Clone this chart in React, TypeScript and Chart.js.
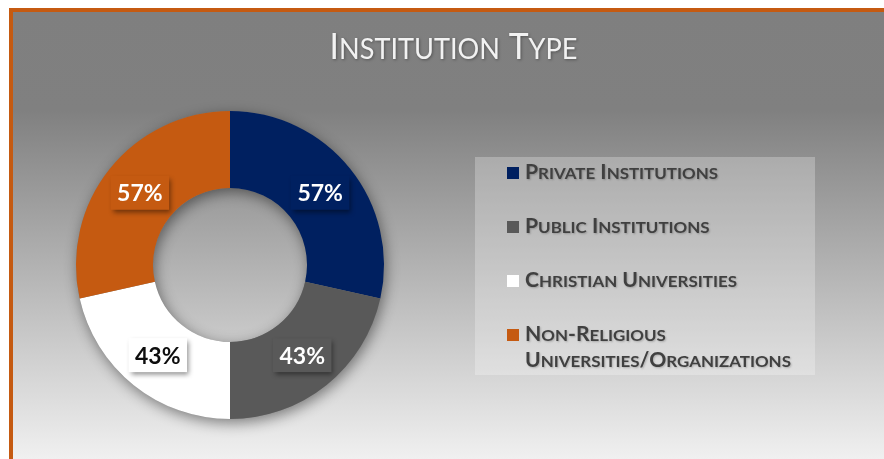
import React, { useEffect, useRef } from 'react';
import { Chart, registerables } from 'chart.js';

Chart.register(...registerables);

const categories = [
  'Private Institutions',
  'Public Institutions',
  'Christian Universities',
  'Non-Religious Universities/Organizations',
];
const values = [57, 43, 43, 57];
const valueLabels = ['57%', '43%', '43%', '57%'];
const sliceColors = ['#002060', '#595959', '#FFFFFF', '#C55A11'];
const valueTextColors = ['#FFFFFF', '#FFFFFF', '#0D0D0D', '#FFFFFF'];
const chartTitle = 'Institution Type';

const FAMILY = 'Lato, "Open Sans", sans-serif';

type Run = { text: string; big: boolean };

function runsOf(text: string): Run[] {
  const runs: Run[] = [];
  for (const ch of text) {
    const big = !(ch >= 'a' && ch <= 'z');
    const last = runs[runs.length - 1];
    if (last && last.big === big) last.text += ch.toUpperCase();
    else runs.push({ text: ch.toUpperCase(), big });
  }
  return runs;
}

function measureSC(ctx: CanvasRenderingContext2D, text: string, big: number, small: number, weight: string) {
  let w = 0;
  for (const r of runsOf(text)) {
    ctx.font = `${weight} ${r.big ? big : small}px ${FAMILY}`;
    w += ctx.measureText(r.text).width;
  }
  return w;
}

function drawSC(
  ctx: CanvasRenderingContext2D,
  text: string,
  x: number,
  y: number,
  big: number,
  small: number,
  weight: string,
  sx: number
) {
  ctx.save();
  ctx.translate(x, y);
  ctx.scale(sx, 1);
  ctx.textBaseline = 'alphabetic';
  ctx.textAlign = 'left';
  let cx = 0;
  for (const r of runsOf(text)) {
    ctx.font = `${weight} ${r.big ? big : small}px ${FAMILY}`;
    ctx.fillText(r.text, cx, 0);
    cx += ctx.measureText(r.text).width;
  }
  ctx.restore();
}

const decorPlugin = {
  id: 'decor',
  beforeDraw(chart: any) {
    const ctx: CanvasRenderingContext2D = chart.ctx;
    const W = chart.width;
    const H = chart.height;
    ctx.save();
    ctx.fillStyle = '#FFFFFF';
    ctx.fillRect(0, 0, W, H);
    const g = ctx.createLinearGradient(0, 12, 0, H);
    g.addColorStop(0, '#7F7F7F');
    g.addColorStop(0.22, '#808080');
    g.addColorStop(1, '#F0F0F0');
    ctx.fillStyle = g;
    ctx.fillRect(13, 12, W - 13, H - 12);
    ctx.fillStyle = '#C55A11';
    ctx.fillRect(9, 8, W - 9, 4);
    ctx.fillRect(9, 8, 4, H - 8);

    // title
    ctx.fillStyle = '#F2F2F2';
    ctx.shadowColor = 'rgba(0,0,0,0.35)';
    ctx.shadowBlur = 3;
    ctx.shadowOffsetX = 1;
    ctx.shadowOffsetY = 1;
    const tBig = 36, tSmall = 29;
    const tw = measureSC(ctx, chartTitle, tBig, tSmall, '400');
    const tsx = 248 / tw;
    drawSC(ctx, chartTitle, 453.5 - (tw * tsx) / 2, 59, tBig, tSmall, '400', tsx);
    ctx.restore();

    // legend box
    ctx.save();
    ctx.fillStyle = 'rgba(255,255,255,0.26)';
    ctx.fillRect(475, 157, 340, 218);
    const lBig = 20, lSmall = 16, weight = '700';
    const refW = measureSC(ctx, categories[0], lBig, lSmall, weight);
    const lsx = 193 / refW;
    const textX = 525;
    const maxW = 815 - textX - 8;
    let baseY = 179;
    categories.forEach((cat, i) => {
      const words = cat.split(' ');
      const lines: string[] = [];
      let cur = '';
      for (const w of words) {
        const test = cur ? cur + ' ' + w : w;
        if (cur && measureSC(ctx, test, lBig, lSmall, weight) * lsx > maxW) {
          lines.push(cur);
          cur = w;
        } else cur = test;
      }
      if (cur) lines.push(cur);
      ctx.shadowColor = 'rgba(0,0,0,0)';
      ctx.fillStyle = sliceColors[i];
      ctx.fillRect(507, baseY - 12, 12, 12);
      ctx.fillStyle = '#404040';
      ctx.shadowColor = 'rgba(0,0,0,0.22)';
      ctx.shadowBlur = 2;
      ctx.shadowOffsetX = 1;
      ctx.shadowOffsetY = 1;
      lines.forEach((ln, k) => {
        drawSC(ctx, ln, textX, baseY + k * 26, lBig, lSmall, weight, lsx);
      });
      baseY += 54 + (lines.length - 1) * 26;
    });
    ctx.restore();
  },
  beforeDatasetsDraw(chart: any) {
    const meta = chart.getDatasetMeta(0);
    const a = meta.data[0];
    if (!a) return;
    const ctx: CanvasRenderingContext2D = chart.ctx;
    const { x, y, outerRadius, innerRadius } = a.getProps(['x', 'y', 'outerRadius', 'innerRadius'], true);
    ctx.save();
    ctx.beginPath();
    ctx.arc(x, y, outerRadius, 0, Math.PI * 2, false);
    ctx.arc(x, y, innerRadius, 0, Math.PI * 2, true);
    ctx.closePath();
    ctx.shadowColor = 'rgba(0,0,0,0.45)';
    ctx.shadowBlur = 14;
    ctx.shadowOffsetX = 2;
    ctx.shadowOffsetY = 4;
    ctx.fillStyle = '#808080';
    ctx.fill();
    ctx.restore();
  },
  afterDatasetsDraw(chart: any) {
    const meta = chart.getDatasetMeta(0);
    const ctx: CanvasRenderingContext2D = chart.ctx;
    meta.data.forEach((arc: any, i: number) => {
      const p = arc.tooltipPosition(true);
      ctx.save();
      ctx.font = `700 23px ${FAMILY}`;
      const tw = ctx.measureText(valueLabels[i]).width;
      const bw = tw + 13;
      const bh = 34;
      ctx.shadowColor = 'rgba(0,0,0,0.45)';
      ctx.shadowBlur = 5;
      ctx.shadowOffsetX = 2;
      ctx.shadowOffsetY = 3;
      ctx.fillStyle = sliceColors[i];
      ctx.fillRect(p.x - bw / 2, p.y - bh / 2, bw, bh);
      ctx.shadowColor = 'rgba(0,0,0,0)';
      ctx.fillStyle = valueTextColors[i];
      ctx.textAlign = 'center';
      ctx.textBaseline = 'middle';
      ctx.fillText(valueLabels[i], p.x, p.y + 1);
      ctx.restore();
    });
  },
};

export default function App() {
  const ref = useRef<HTMLCanvasElement>(null);
  useEffect(() => {
    if (!ref.current) return;
    const chart = new Chart(ref.current, {
      type: 'doughnut',
      data: {
        labels: categories,
        datasets: [
          {
            data: values,
            backgroundColor: sliceColors,
            borderWidth: 0,
            hoverOffset: 0,
            offset: 0,
          },
        ],
      },
      options: {
        responsive: false,
        animation: false,
        events: [],
        cutout: '50%',
        layout: { padding: { left: 76, top: 111, right: 500, bottom: 40 } },
        plugins: {
          legend: { display: false },
          title: { display: false },
          tooltip: { enabled: false },
        },
      },
      plugins: [decorPlugin],
    } as any);
    return () => chart.destroy();
  }, []);
  return (
    <div style={{ position: 'fixed', left: 0, top: 0, width: 884, height: 459 }}>
      <canvas ref={ref} width={884} height={459} style={{ display: 'block' }} />
    </div>
  );
}
